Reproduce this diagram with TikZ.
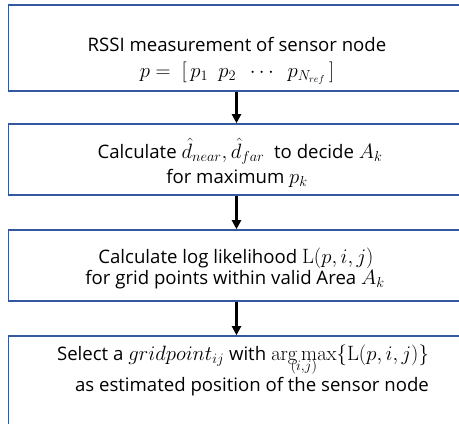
\documentclass[tikz,border=0pt]{standalone}
\usepackage{amsmath}
\usepackage[no-math]{fontspec}
\setmainfont{Open Sans}
\usetikzlibrary{arrows.meta}
\definecolor{boxblue}{RGB}{52,88,160}
\newcommand{\bm}[1]{{\fontsize{20.5}{24}\selectfont$#1$}}
\tikzset{
  stepbox/.style={draw=boxblue, line width=1.6pt, fill=white, rectangle, inner sep=0pt},
  lbl/.style={inner sep=0pt, anchor=base, font=\fontsize{18.6}{22}\selectfont},
  arr/.style={line width=2.2pt, black, -{Triangle[length=9pt,width=9pt]}}
}
\begin{document}
\begin{tikzpicture}[x=1pt,y=-1pt]
\useasboundingbox (0,0) rectangle (459,424);
\clip (0,0) rectangle (459,424);
\node[stepbox, minimum width=456pt, minimum height=86.3pt] (b1) at (236.5,47.85) {};
\node[stepbox, minimum width=456pt, minimum height=71pt] (b2) at (236.5,159.5) {};
\node[stepbox, minimum width=456pt, minimum height=71pt] (b3) at (236.5,265.5) {};
\node[stepbox, minimum width=456pt, minimum height=94pt] (b4) at (236.5,383) {};
\draw[arr] (b1.south) -- (b2.north);
\draw[arr] (b2.south) -- (b3.north);
\draw[arr] (b3.south) -- (b4.north);
\node[lbl] (t1a) at (237,51) {RSSI measurement of sensor node};
\node[lbl] (t1b) at (237,77) {\bm{p =\ [\,p_1\enskip p_2\enskip \cdots\enskip p_{N_{ref}}\,]}};
\node[lbl] (t2a) at (240,158) {Calculate \bm{\hat{d}_{near},\hat{d}_{far}}\ \ to decide \bm{A_k}};
\node[lbl] (t2b) at (237,183) {for maximum \bm{p_k}};
\node[lbl] (t3a) at (236,263) {Calculate log likelihood \bm{\mathrm{L}(p,i,j)}};
\node[lbl] (t3b) at (235,284) {for grid points within valid Area \bm{A_k}};
\node[lbl] (t4a) at (243,360) {Select a \bm{gridpoint_{ij}} with \bm{\mathop{\mathrm{arg\,max}}\limits_{\smash{\raisebox{6pt}{$\scriptstyle(i,j)$}}}\{\mathrm{L}(p,i,j)\}}};
\node[lbl] (t4b) at (252,391) {as estimated position of the sensor node};
\end{tikzpicture}
\end{document}
